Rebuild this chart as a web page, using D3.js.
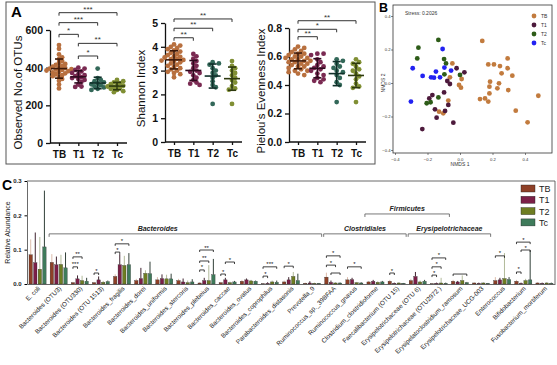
<!DOCTYPE html>
<html>
<head>
<meta charset="utf-8">
<script src="https://cdn.jsdelivr.net/npm/d3@7"></script>
<style>
  body { margin: 0; background: #fff; }
  svg { display: block; font-family: "Liberation Sans", Arial, sans-serif; }
</style>
</head>
<body>
<div id="wrapper"></div>
<script>
// ---------- data ----------
const groups = ["TB", "T1", "T2", "Tc"]

// panel A: per-sample alpha diversity (TB, T1, T2, Tc)
const observedOTUs = [
  [520, 500, 470, 455, 445, 435, 425, 420, 415, 410, 405, 400, 398, 395, 392, 390, 388, 385, 382, 378, 375, 370, 365, 360, 355, 350, 340, 330, 310, 290],
  [400, 395, 388, 380, 372, 365, 360, 355, 350, 345, 340, 335, 325, 310, 300, 298],
  [395, 345, 335, 328, 322, 316, 312, 306, 300, 295, 288, 282],
  [335, 328, 322, 318, 312, 308, 304, 300, 297, 293, 288, 282, 275, 270]
]
const shannon = [
  [4.1, 4.05, 4.0, 3.95, 3.9, 3.85, 3.8, 3.75, 3.7, 3.65, 3.6, 3.58, 3.55, 3.5, 3.48, 3.45, 3.42, 3.4, 3.35, 3.3, 3.25, 3.2, 3.15, 3.1, 3.05, 3.0, 2.95, 2.9, 2.85, 2.72],
  [3.7, 3.6, 3.5, 3.4, 3.3, 3.2, 3.1, 3.0, 2.95, 2.9, 2.8, 2.7, 2.6, 2.5, 2.45, 2.4],
  [3.35, 3.3, 3.25, 3.1, 3.0, 2.9, 2.8, 2.7, 2.55, 2.4, 2.3, 1.6],
  [3.4, 3.2, 3.1, 3.0, 2.9, 2.8, 2.7, 2.6, 2.5, 2.35, 2.25, 2.2, 1.6]
]
const pielou = [
  [0.67, 0.66, 0.65, 0.64, 0.63, 0.62, 0.62, 0.61, 0.6, 0.6, 0.59, 0.59, 0.58, 0.58, 0.57, 0.57, 0.56, 0.56, 0.55, 0.55, 0.54, 0.53, 0.53, 0.52, 0.51, 0.5, 0.5, 0.49, 0.48, 0.47],
  [0.62, 0.62, 0.61, 0.58, 0.56, 0.54, 0.53, 0.52, 0.51, 0.5, 0.48, 0.47, 0.45, 0.44, 0.43, 0.42],
  [0.58, 0.57, 0.55, 0.53, 0.52, 0.5, 0.49, 0.47, 0.45, 0.42, 0.4, 0.28],
  [0.58, 0.56, 0.55, 0.53, 0.51, 0.5, 0.48, 0.46, 0.44, 0.41, 0.39, 0.38, 0.28]
]
// significance brackets: [from, to, bracket height (data units), label]
const sigObserved = [["TB", "Tc", 692, "***"], ["TB", "T2", 639, "***"], ["TB", "T1", 577, "*"], ["T1", "Tc", 529, "**"], ["T1", "T2", 462, "*"]]
const sigShannon = [["TB", "Tc", 5.17, "**"], ["TB", "T2", 4.78, "**"], ["TB", "T1", 4.38, "**"]]
const sigPielou = [["TB", "Tc", 0.851, "**"], ["TB", "T2", 0.791, "*"], ["TB", "T1", 0.739, "**"]]

// panel B: NMDS coordinates
const nmdsTB = [[0.137, 0.251], [0.174, 0.111], [0.209, 0.111], [0.246, 0.101], [0.293, 0.147], [0.256, 0.058], [0.293, 0.088], [0.322, 0.044], [0.185, 0.008], [0.181, -0.022], [0.240, -0.002], [0.230, -0.032], [0.181, -0.062], [0.297, -0.042], [0.123, -0.096], [0.154, -0.092], [0.174, -0.111], [0.482, -0.076], [0.343, -0.165], [0.416, -0.235], [-0.047, 0.117], [-0.062, 0.034], [0.010, 0.024], [-0.006, -0.012], [0.006, -0.028], [-0.072, -0.105], [-0.129, -0.171], [-0.103, -0.181]]
const nmdsT1 = [[-0.021, 0.088], [0.027, 0.064], [-0.078, 0.012], [-0.062, -0.006], [-0.098, -0.056], [-0.170, -0.072], [-0.189, -0.092], [-0.072, -0.131], [-0.154, -0.157], [-0.092, -0.167], [-0.144, -0.207], [-0.041, -0.237], [-0.232, -0.275]]
const nmdsT2 = [[-0.133, 0.257], [-0.256, 0.211], [-0.263, 0.147], [-0.098, 0.143], [-0.086, 0.117], [-0.096, 0.052], [0.000, 0.048], [-0.133, -0.086], [-0.205, -0.121], [-0.181, -0.115]]
const nmdsTc = [[-0.107, 0.203], [-0.291, 0.088], [-0.148, 0.068], [-0.096, 0.092], [-0.055, 0.074], [-0.230, 0.042], [-0.178, 0.034], [-0.160, 0.032], [-0.123, 0.034], [-0.302, -0.111]]
const nmdsTicks = [-0.4, -0.2, 0.0, 0.2, 0.4]

// panel C: relative abundance (mean and upper error) per taxon
const taxa = ["E. coli", "Bacteroides (OTU3)", "Bacteroides (OTU330)", "Bacteroides (OTU 1513)", "Bacteroides_fragilis", "Bacteroides_dorei", "Bacteroides_uniformis", "Bacteroides_stercoris", "Bacteroides_plebeius", "Bacteroides_caccae", "Bacteroides_ovatus", "Bacteroides_coprophilus", "Parabacteroides_distasonis", "Prevotella_9", "Ruminococcus_sp._39BFAA", "Ruminococcus_gnavus", "Clostridium_clostridioforme", "Faecalibacterium (OTU 15)", "Erysipelotrichaceae (OTU 6)", "Erysipelotrichaceae (OTU2972 )", "Erysipelatoclostridium_ramosum", "Erysipelotrichaceae_UCG-003", "Enterococcus", "Bifidobacterium", "Fusobacterium_mortiferum"]
const meanTB = [0.085, 0.063, 0.004, 0.004, 0.022, 0.010, 0.012, 0.010, 0.003, 0.004, 0.008, 0.001, 0.006, 0.002, 0.020, 0.012, 0.006, 0.008, 0.010, 0.001, 0.008, 0.003, 0.010, 0.008, 0.003]
const meanT1 = [0.062, 0.056, 0.015, 0.012, 0.056, 0.016, 0.016, 0.006, 0.010, 0.012, 0.012, 0.002, 0.012, 0.003, 0.005, 0.013, 0.008, 0.002, 0.022, 0.002, 0.006, 0.002, 0.012, 0.002, 0.002]
const meanT2 = [0.043, 0.057, 0.010, 0.005, 0.054, 0.031, 0.015, 0.004, 0.010, 0.004, 0.009, 0.006, 0.022, 0.002, 0.003, 0.004, 0.005, 0.003, 0.006, 0.003, 0.010, 0.003, 0.016, 0.010, 0.003]
const meanTc = [0.108, 0.047, 0.008, 0.007, 0.056, 0.030, 0.015, 0.006, 0.027, 0.006, 0.008, 0.005, 0.010, 0.002, 0.003, 0.003, 0.006, 0.002, 0.008, 0.002, 0.004, 0.002, 0.013, 0.012, 0.002]
const upperTB = [0.130, 0.087, 0.006, 0.006, 0.028, 0.015, 0.020, 0.015, 0.005, 0.006, 0.012, 0.002, 0.010, 0.004, 0.033, 0.020, 0.009, 0.012, 0.015, 0.002, 0.012, 0.005, 0.020, 0.012, 0.005]
const upperT1 = [0.150, 0.080, 0.025, 0.022, 0.087, 0.047, 0.028, 0.016, 0.018, 0.018, 0.016, 0.005, 0.020, 0.008, 0.010, 0.018, 0.012, 0.004, 0.035, 0.004, 0.009, 0.004, 0.018, 0.004, 0.004]
const upperT2 = [0.137, 0.085, 0.024, 0.009, 0.082, 0.040, 0.027, 0.010, 0.055, 0.007, 0.012, 0.010, 0.035, 0.004, 0.005, 0.006, 0.008, 0.005, 0.010, 0.018, 0.025, 0.005, 0.090, 0.015, 0.005]
const upperTc = [0.272, 0.092, 0.018, 0.010, 0.090, 0.065, 0.030, 0.014, 0.073, 0.009, 0.010, 0.010, 0.030, 0.003, 0.004, 0.005, 0.009, 0.003, 0.012, 0.004, 0.006, 0.003, 0.020, 0.098, 0.004]
// significance in C: [taxon index, from, to, bracket height, label]
const sigTaxa = [
  [2, "TB", "T1", 0.050, "***"], [2, "TB", "T2", 0.079, "**"],
  [3, "TB", "T1", 0.032, "*"],
  [4, "TB", "T1", 0.093, "*"], [4, "TB", "Tc", 0.117, "*"],
  [8, "TB", "T1", 0.041, "*"], [8, "TB", "T2", 0.067, "**"], [8, "TB", "Tc", 0.099, "**"],
  [9, "TB", "T1", 0.029, "*"], [9, "T1", "Tc", 0.064, "*"],
  [11, "TB", "T1", 0.023, "*"], [11, "TB", "Tc", 0.050, "***"],
  [12, "TB", "T2", 0.052, "*"],
  [14, "TB", "Tc", 0.082, "*"], [14, "TB", "T2", 0.055, "*"], [14, "T1", "Tc", 0.032, ""],
  [15, "TB", "Tc", 0.050, "*"],
  [17, "TB", "T1", 0.032, "*"],
  [19, "TB", "T1", 0.026, "*"], [19, "TB", "T2", 0.050, "*"], [19, "TB", "Tc", 0.076, "*"],
  [20, "TB", "Tc", 0.029, ""],
  [22, "TB", "T2", 0.082, "*"],
  [23, "TB", "T1", 0.035, "*"], [23, "T1", "Tc", 0.099, "*"], [23, "TB", "Tc", 0.122, "*"]
]
const abundanceTicks = [0.0, 0.1, 0.2, 0.3]

// ---------- drawing ----------
const width = 557
const height = 365
const svg = d3.select("#wrapper").append("svg")
  .attr("width", width)
  .attr("height", height)

const dotColors = ["#b8703f", "#7a2a52", "#336859", "#808f34"]
const sdColors = ["#3d1a0a", "#2e0a1e", "#10302a", "#2e3a0e"]

// panel A frame
svg.append("rect")
  .attr("x", 6).attr("y", 2).attr("width", 369).attr("height", 162)
  .attr("fill", "none").attr("stroke", "#555").attr("stroke-width", 1)
svg.append("text").attr("x", 11).attr("y", 17)
  .attr("font-size", 15).attr("font-weight", "bold").text("A")

const panelsA = [
  { values: observedOTUs, sig: sigObserved, axisX: 50, domain: [0, 600], top: 30, bottom: 143, ticks: [0, 200, 400, 600], fmt: d3.format("d"), title: "Observed No.of OTUs", titleX: 22 },
  { values: shannon, sig: sigShannon, axisX: 165, domain: [0, 5], top: 23, bottom: 142, ticks: [0, 1, 2, 3, 4, 5], fmt: d3.format("d"), title: "Shannon Index", titleX: 145 },
  { values: pielou, sig: sigPielou, axisX: 289, domain: [0, 0.8], top: 28, bottom: 142, ticks: [0, 0.2, 0.4, 0.6, 0.8], fmt: d3.format(".1f"), title: "Pielou's Evenness Index", titleX: 265 }
]

panelsA.forEach(p => {
  const g = svg.append("g")
  const y = d3.scaleLinear().domain(p.domain).range([p.bottom, p.top])
  const x = d3.scalePoint().domain(groups).range([p.axisX + 9, p.axisX + 67])

  const yAxis = g.append("g")
    .attr("transform", `translate(${p.axisX},0)`)
    .call(d3.axisLeft(y).tickValues(p.ticks).tickFormat(p.fmt).tickSize(4).tickSizeOuter(0))
  yAxis.selectAll("text").attr("font-size", 10.5).attr("font-weight", "bold").attr("fill", "#111")

  const xAxis = g.append("g")
    .attr("transform", `translate(0,${p.bottom})`)
    .call(d3.axisBottom(x).tickSize(3).tickSizeOuter(0))
  xAxis.select(".domain").attr("d", `M${p.axisX},0H${p.axisX + 77}`)
  xAxis.selectAll("text").attr("font-size", 10).attr("font-weight", "bold").attr("fill", "#111").attr("dy", "0.9em")
  g.selectAll(".domain, .tick line").attr("stroke", "#111").attr("stroke-width", 1.3)

  g.append("text")
    .attr("transform", `translate(${p.titleX},${(p.top + p.bottom) / 2 + 6}) rotate(-90)`)
    .attr("text-anchor", "middle")
    .attr("font-size", 11.5)
    .attr("fill", "#111")
    .text(p.title)

  // compact beeswarm layout for the dots
  const r = 2.4
  p.values.forEach((vals, gi) => {
    const cx = x(groups[gi])
    const placed = []
    const sorted = vals.slice().sort((a, b) => b - a)
    sorted.forEach(v => {
      const cy = y(v)
      let off = 0
      for (let k = 0; k < 20; k++) {
        const step = Math.ceil(k / 2) * r * 1.3 * (k % 2 ? 1 : -1)
        const ok = placed.every(q => Math.hypot(q[0] - (cx + step), q[1] - cy) >= r * 1.45)
        if (ok) { off = step; break }
      }
      placed.push([cx + off, cy])
    })
    g.append("g").selectAll("circle")
      .data(placed)
      .enter().append("circle")
        .attr("cx", d => d[0])
        .attr("cy", d => d[1])
        .attr("r", r)
        .attr("fill", dotColors[gi])

    const m = d3.mean(vals)
    const sd = d3.deviation(vals)
    const sdg = g.append("g").attr("stroke", sdColors[gi]).attr("stroke-width", 1.6)
    sdg.append("line").attr("x1", cx).attr("x2", cx).attr("y1", y(m - sd)).attr("y2", y(m + sd))
    sdg.append("line").attr("x1", cx - 8).attr("x2", cx + 8).attr("y1", y(m)).attr("y2", y(m))
    ;[m - sd, m + sd].forEach(v => {
      sdg.append("line").attr("x1", cx - 4).attr("x2", cx + 4).attr("y1", y(v)).attr("y2", y(v))
    })
  })

  // significance brackets
  p.sig.forEach(s => {
    const x1 = x(s[0]), x2 = x(s[1]), yy = y(s[2])
    g.append("path")
      .attr("d", `M${x1},${yy + 3}V${yy}H${x2}V${yy + 3}`)
      .attr("fill", "none").attr("stroke", "#333").attr("stroke-width", 1)
    g.append("text")
      .attr("x", (x1 + x2) / 2).attr("y", yy - 1)
      .attr("text-anchor", "middle").attr("font-size", 8).attr("fill", "#333")
      .text(s[3])
  })
})

// ---------- panel B ----------
const bColors = ["#c27b3e", "#4d1a3c", "#2d5c18", "#2222f2"]
const nmdsSets = [nmdsTB, nmdsT1, nmdsT2, nmdsTc]
const bx = d3.scaleLinear().domain([-0.4, 0.4]).range([395, 525])
const by = d3.scaleLinear().domain([-0.4, 0.4]).range([150, 16])
const gB = svg.append("g")
gB.append("rect")
  .attr("x", 393).attr("y", 5).attr("width", 159).attr("height", 148)
  .attr("fill", "none").attr("stroke", "#333").attr("stroke-width", 0.8)
svg.append("text").attr("x", 379).attr("y", 12)
  .attr("font-size", 12.5).attr("font-weight", "bold").text("B")

const bxAxis = gB.append("g").attr("transform", "translate(0,153)")
  .call(d3.axisBottom(bx).tickValues(nmdsTicks).tickFormat(d3.format(".1f")).tickSize(2).tickSizeOuter(0))
const byAxis = gB.append("g").attr("transform", "translate(393,0)")
  .call(d3.axisLeft(by).tickValues(nmdsTicks).tickFormat(d3.format(".1f")).tickSize(2).tickSizeOuter(0))
bxAxis.select(".domain").remove()
byAxis.select(".domain").remove()
gB.selectAll(".tick text").attr("font-size", 4.2).attr("fill", "#333")
gB.selectAll(".tick line").attr("stroke", "#333").attr("stroke-width", 0.6)
byAxis.selectAll(".tick text").attr("x", -2.5)

gB.append("text").attr("x", bx(0)).attr("y", 166)
  .attr("text-anchor", "middle").attr("font-size", 5).attr("fill", "#333").text("NMDS 1")
gB.append("text").attr("transform", `translate(385,${by(0)}) rotate(-90)`)
  .attr("text-anchor", "middle").attr("font-size", 5).attr("fill", "#333").text("NMDS 2")
gB.append("text").attr("x", 405).attr("y", 15)
  .attr("font-size", 5).attr("fill", "#333").text("Stress: 0.2026")

nmdsSets.forEach((set, i) => {
  gB.append("g").selectAll("circle")
    .data(set)
    .enter().append("circle")
      .attr("cx", d => bx(d[0]))
      .attr("cy", d => by(d[1]))
      .attr("r", 2.4)
      .attr("fill", bColors[i])
})
const bLegend = gB.append("g").selectAll("g")
  .data(groups)
  .enter().append("g")
    .attr("transform", (d, i) => `translate(534,${16 + i * 9})`)
bLegend.append("circle").attr("r", 2.4).attr("fill", (d, i) => bColors[i])
bLegend.append("text").attr("x", 7).attr("y", 1.8).attr("font-size", 5).attr("fill", "#333").text(d => d)

// ---------- panel C ----------
const cColors = ["#8e4027", "#7b1f47", "#6e7d22", "#3f7b5b"]
const errColors = ["#d8b4a2", "#2a0a18", "#a9b28f", "#1b2b22"]
const means = [meanTB, meanT1, meanT2, meanTc]
const uppers = [upperTB, upperT1, upperT2, upperTc]

const cx = d3.scaleBand().domain(taxa).range([27, 555])
const cxInner = d3.scaleBand().domain(groups).range([2, cx.bandwidth() - 2]).paddingInner(0.25)
const cy = d3.scaleLinear().domain([0, 0.3]).range([284, 181])
const gC = svg.append("g")

svg.append("text").attr("x", 2).attr("y", 190)
  .attr("font-size", 14).attr("font-weight", "bold").text("C")

// frame
gC.append("path")
  .attr("d", `M27,${cy(0.3)}H555V${cy(0)}`)
  .attr("fill", "none").attr("stroke", "#444").attr("stroke-width", 0.8)

const cyAxis = gC.append("g").attr("transform", "translate(27,0)")
  .call(d3.axisLeft(cy).tickValues(abundanceTicks).tickFormat(d3.format(".1f")).tickSize(2.5).tickSizeOuter(0))
cyAxis.selectAll("text").attr("font-size", 6).attr("font-weight", "bold").attr("fill", "#222")
const cxAxis = gC.append("g").attr("transform", `translate(0,${cy(0)})`)
  .call(d3.axisBottom(cx).tickSize(0).tickSizeOuter(0))
cxAxis.selectAll("text")
  .attr("font-size", 6.4)
  .attr("fill", "#222")
  .attr("text-anchor", "end")
  .attr("dy", null)
  .attr("y", 0)
  .attr("transform", "translate(3,5) rotate(-45)")
gC.selectAll(".domain").attr("stroke", "#444").attr("stroke-width", 0.8)

gC.append("text")
  .attr("transform", `translate(10,${cy(0.15)}) rotate(-90)`)
  .attr("text-anchor", "middle").attr("font-size", 7).attr("fill", "#222")
  .text("Relative Abundance")

// bars
groups.forEach((grp, gi) => {
  const bars = gC.append("g").selectAll("g")
    .data(taxa)
    .enter().append("g")
  bars.append("line")
    .attr("x1", d => cx(d) + cxInner(grp) + cxInner.bandwidth() / 2)
    .attr("x2", d => cx(d) + cxInner(grp) + cxInner.bandwidth() / 2)
    .attr("y1", (d, i) => cy(means[gi][i]))
    .attr("y2", (d, i) => cy(uppers[gi][i]))
    .attr("stroke", errColors[gi]).attr("stroke-width", 0.9)
  bars.append("rect")
    .attr("x", d => cx(d) + cxInner(grp))
    .attr("width", cxInner.bandwidth())
    .attr("y", (d, i) => cy(means[gi][i]))
    .attr("height", (d, i) => cy(0) - cy(means[gi][i]))
    .attr("fill", cColors[gi])
    .attr("stroke", "#222").attr("stroke-width", 0.3)
})

// significance brackets
sigTaxa.forEach(s => {
  const t = taxa[s[0]]
  const x1 = cx(t) + cxInner(s[1]) + cxInner.bandwidth() / 2
  const x2 = cx(t) + cxInner(s[2]) + cxInner.bandwidth() / 2
  const yy = cy(s[3])
  gC.append("path")
    .attr("d", `M${x1},${yy + 2}V${yy}H${x2}V${yy + 2}`)
    .attr("fill", "none").attr("stroke", "#111").attr("stroke-width", 0.8)
  gC.append("text")
    .attr("x", (x1 + x2) / 2).attr("y", yy - 0.5)
    .attr("text-anchor", "middle").attr("font-size", 6).attr("fill", "#111")
    .text(s[4])
})

// taxonomic group brackets
const hierLevel = 0.146
const clade = [
  { label: "Bacteroides", from: 1, to: 13, textX: cx(taxa[6]) + 4 },
  { label: "Clostridiales", from: 14, to: 17 },
  { label: "Erysipelotrichaceae", from: 18, to: 21 }
]
clade.forEach(c => {
  const x1 = cx(taxa[c.from]) + 1
  const x2 = cx(taxa[c.to]) + cx.bandwidth() - 1
  const yy = cy(hierLevel)
  c.center = (x1 + x2) / 2
  gC.append("path")
    .attr("d", `M${x1},${yy + 3}V${yy}H${x2}V${yy + 3}`)
    .attr("fill", "none").attr("stroke", "#555").attr("stroke-width", 0.8)
  gC.append("text")
    .attr("x", c.textX || c.center).attr("y", yy - 3)
    .attr("text-anchor", "middle").attr("font-size", 7)
    .attr("font-style", "italic").attr("font-weight", "bold").attr("fill", "#222")
    .text(c.label)
})
const fy = cy(0.204)
gC.append("path")
  .attr("d", `M${clade[1].center},${fy + 3}V${fy}H${clade[2].center}V${fy + 3}`)
  .attr("fill", "none").attr("stroke", "#555").attr("stroke-width", 0.8)
gC.append("text")
  .attr("x", (clade[1].center + clade[2].center) / 2).attr("y", fy - 3)
  .attr("text-anchor", "middle").attr("font-size", 7)
  .attr("font-style", "italic").attr("font-weight", "bold").attr("fill", "#222")
  .text("Firmicutes")

// legend
const cLegend = gC.append("g").selectAll("g")
  .data(groups)
  .enter().append("g")
    .attr("transform", (d, i) => `translate(521,${185 + i * 11.3})`)
cLegend.append("rect").attr("width", 14).attr("height", 7)
  .attr("fill", (d, i) => cColors[i]).attr("stroke", "#222").attr("stroke-width", 0.4)
cLegend.append("text").attr("x", 18).attr("y", 7).attr("font-size", 9).attr("fill", "#222").text(d => d)
</script>
</body>
</html>
